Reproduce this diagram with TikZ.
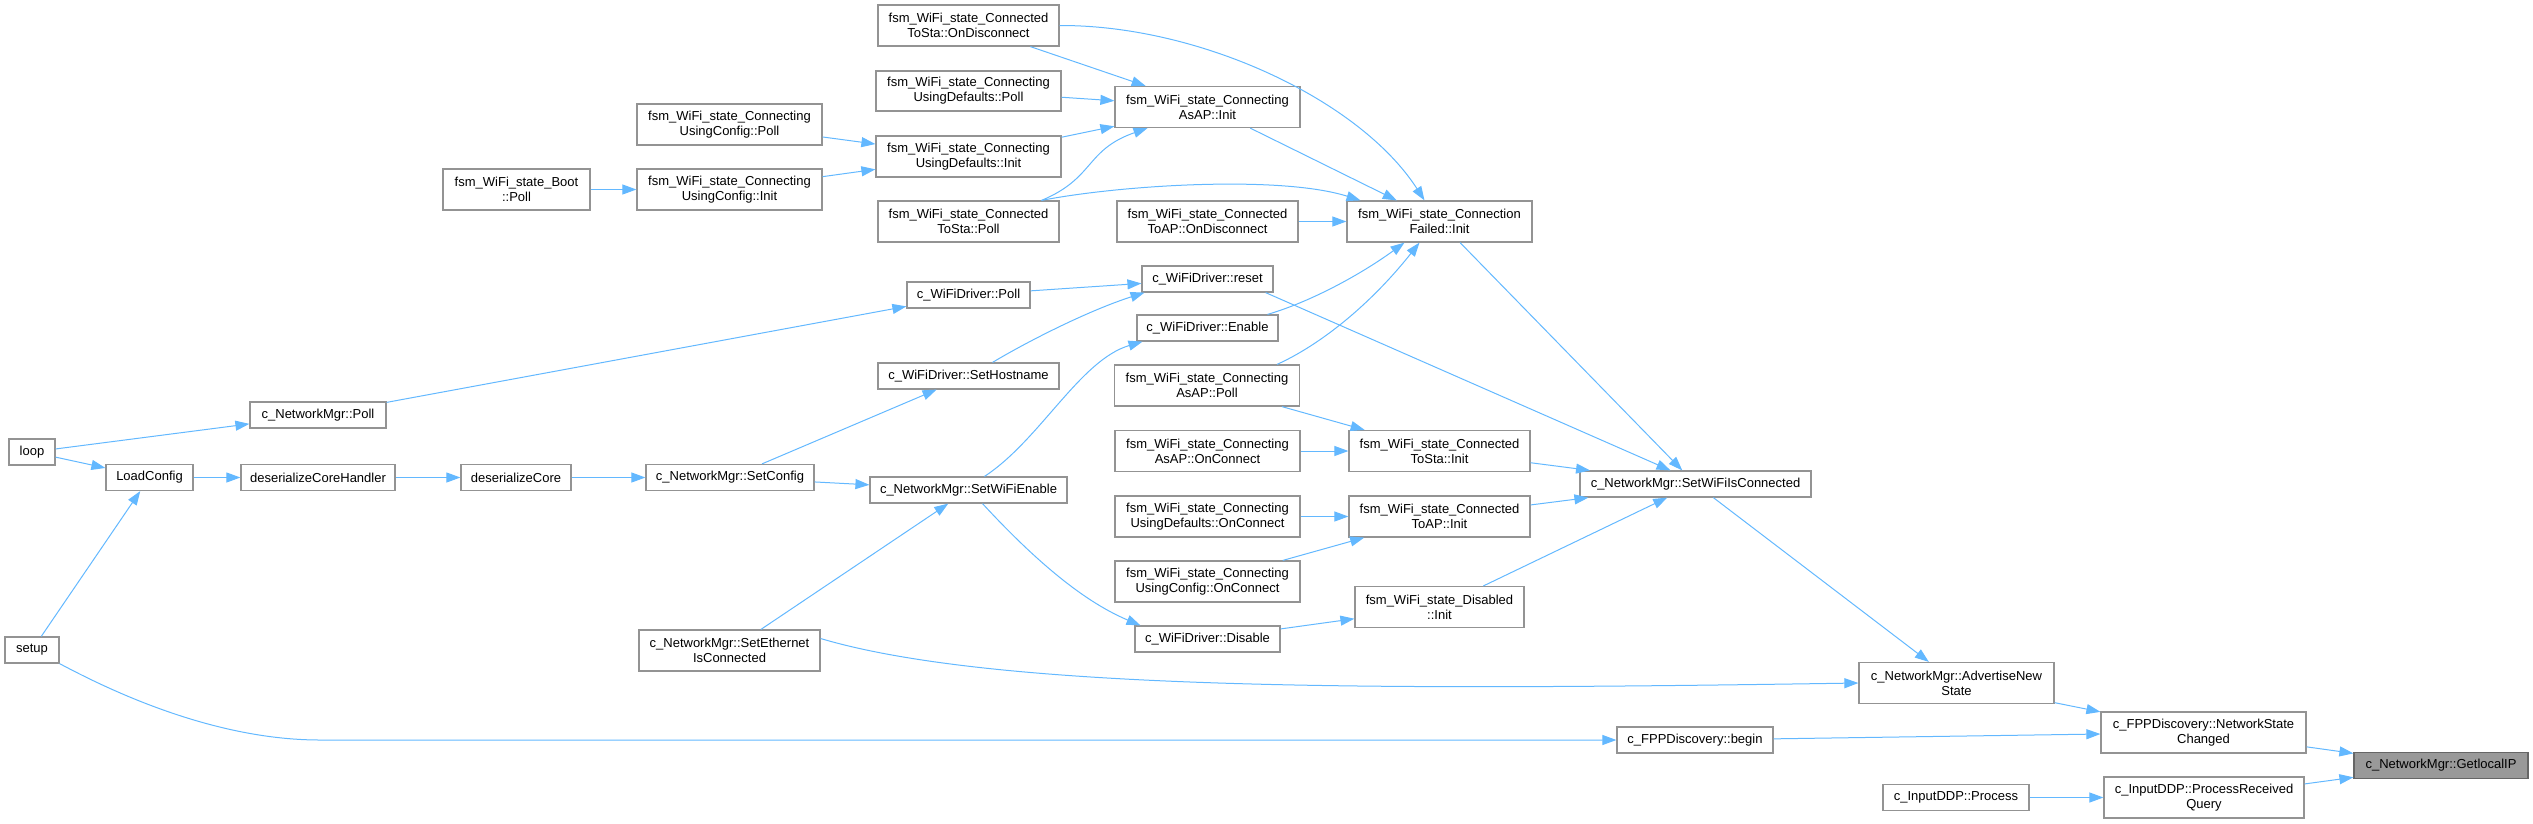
\documentclass[tikz,border=0pt]{standalone}
\usepackage{fontspec}
\setmainfont{Liberation Sans}
\usetikzlibrary{arrows.meta}
\definecolor{edgeblue}{HTML}{63B8FF}
\definecolor{boxgray}{HTML}{939393}
\definecolor{hlfill}{HTML}{999999}
\definecolor{hlborder}{HTML}{666666}
\begin{document}
\begin{tikzpicture}[x=1pt,y=-1pt,
  box/.style={draw=boxgray, line width=1.2pt, fill=white, inner sep=0pt, align=center,
    font=\fontsize{13}{15}\selectfont, text=black},
  hlbox/.style={box, draw=hlborder, fill=hlfill},
  sz/.style 2 args={minimum width=#1pt, minimum height=#2pt},
  edge/.style={draw=edgeblue, line width=1pt, -{Triangle[length=14pt,width=10pt]}}
]
\useasboundingbox (0,0) rectangle (2533,823);

% column: left
\node[box,sz={46}{26}] (loop) at (32,452) {loop};
\node[box,sz={54}{26}] (setup) at (32,650) {setup};
\node[box,sz={87}{26}] (loadcfg) at (149.5,477.5) {LoadConfig};
\node[box,sz={136}{26}] (nmpoll) at (318,415) {c\_NetworkMgr::Poll};
\node[box,sz={154}{26}] (dch) at (318,477.5) {deserializeCoreHandler};
\node[box,sz={147}{41}] (boot) at (516.5,189.5) {fsm\_WiFi\_state\_Boot\\::Poll};
\node[box,sz={110}{26}] (dcore) at (516,477.5) {deserializeCore};
\node[box,sz={185}{41}] (ucpoll) at (729.5,124.5) {fsm\_WiFi\_state\_Connecting\\UsingConfig::Poll};
\node[box,sz={185}{41}] (ucinit) at (729.5,189.5) {fsm\_WiFi\_state\_Connecting\\UsingConfig::Init};
\node[box,sz={168}{26}] (setcfg) at (730,477.5) {c\_NetworkMgr::SetConfig};
\node[box,sz={181}{41}] (seteth) at (729.5,650.5) {c\_NetworkMgr::SetEthernet\\IsConnected};

% column: middle
\node[box,sz={181}{41}] (tsdisc) at (968.5,25.5) {fsm\_WiFi\_state\_Connected\\ToSta::OnDisconnect};
\node[box,sz={185}{40}] (udpoll) at (968.5,91) {fsm\_WiFi\_state\_Connecting\\UsingDefaults::Poll};
\node[box,sz={185}{41}] (udinit) at (968.5,156.5) {fsm\_WiFi\_state\_Connecting\\UsingDefaults::Init};
\node[box,sz={181}{41}] (tspoll) at (968.5,221.5) {fsm\_WiFi\_state\_Connected\\ToSta::Poll};
\node[box,sz={123}{26}] (wdpoll) at (968.5,295) {c\_WiFiDriver::Poll};
\node[box,sz={181}{26}] (sethost) at (968.5,376) {c\_WiFiDriver::SetHostname};
\node[box,sz={197}{26}] (setwifi) at (968.5,490) {c\_NetworkMgr::SetWiFiEnable};

\node[box,sz={185}{41}] (apinit) at (1207.5,107) {fsm\_WiFi\_state\_Connecting\\AsAP::Init};
\node[box,sz={181}{41}] (apdisc) at (1207.5,221.5) {fsm\_WiFi\_state\_Connected\\ToAP::OnDisconnect};
\node[box,sz={131}{26}] (reset) at (1207.5,279) {c\_WiFiDriver::reset};
\node[box,sz={141}{26}] (enable) at (1207.5,328) {c\_WiFiDriver::Enable};
\node[box,sz={185}{41}] (appoll) at (1207,385.5) {fsm\_WiFi\_state\_Connecting\\AsAP::Poll};
\node[box,sz={185}{41}] (aponc) at (1207.5,451) {fsm\_WiFi\_state\_Connecting\\AsAP::OnConnect};
\node[box,sz={185}{41}] (udonc) at (1207.5,516.5) {fsm\_WiFi\_state\_Connecting\\UsingDefaults::OnConnect};
\node[box,sz={185}{41}] (uconc) at (1207.5,581.5) {fsm\_WiFi\_state\_Connecting\\UsingConfig::OnConnect};
\node[box,sz={145}{26}] (disable) at (1207.5,639) {c\_WiFiDriver::Disable};

\node[box,sz={185}{41}] (cfinit) at (1439.5,221.5) {fsm\_WiFi\_state\_Connection\\Failed::Init};
\node[box,sz={181}{41}] (tsinit) at (1439.5,451) {fsm\_WiFi\_state\_Connected\\ToSta::Init};
\node[box,sz={181}{41}] (tapinit) at (1439.5,516.5) {fsm\_WiFi\_state\_Connected\\ToAP::Init};
\node[box,sz={169}{41}] (disinit) at (1439.5,607) {fsm\_WiFi\_state\_Disabled\\::Init};

% column: right
\node[box,sz={231}{26}] (swic) at (1695.5,484) {c\_NetworkMgr::SetWiFiIsConnected};
\node[box,sz={156}{26}] (fppbegin) at (1695,740) {c\_FPPDiscovery::begin};
\node[box,sz={195}{41}] (adv) at (1956.5,683) {c\_NetworkMgr::AdvertiseNew\\State};
\node[box,sz={146}{26}] (ddpproc) at (1956,797.5) {c\_InputDDP::Process};
\node[box,sz={205}{41}] (nsc) at (2203.5,732.5) {c\_FPPDiscovery::NetworkState\\Changed};
\node[box,sz={200}{41}] (prq) at (2204,797.5) {c\_InputDDP::ProcessReceived\\Query};
\node[hlbox,sz={174}{26}] (glip) at (2441,765.5) {c\_NetworkMgr::GetlocalIP};

% edges (straight)
\draw[edge] (loop) -- (nmpoll);
\draw[edge] (loop) -- (loadcfg);
\draw[edge] (setup) -- (loadcfg);
\draw[edge] (loadcfg) -- (dch);
\draw[edge] (dch) -- (dcore);
\draw[edge] (dcore) -- (setcfg);
\draw[edge] (nmpoll) -- (wdpoll);
\draw[edge] (boot) -- (ucinit);
\draw[edge] (ucpoll) -- (udinit);
\draw[edge] (ucinit) -- (udinit);
\draw[edge] (setcfg) -- (sethost);
\draw[edge] (setcfg) -- (setwifi);
\draw[edge] (seteth) -- (setwifi);
\draw[edge] (tsdisc) -- (apinit);
\draw[edge] (udpoll) -- (apinit);
\draw[edge] (udinit) -- (apinit);
\draw[edge] (wdpoll) -- (reset);
\draw[edge] (apinit) -- (cfinit);
\draw[edge] (apdisc) -- (cfinit);
\draw[edge] (appoll) -- (tsinit);
\draw[edge] (aponc) -- (tsinit);
\draw[edge] (udonc) -- (tapinit);
\draw[edge] (uconc) -- (tapinit);
\draw[edge] (disable) -- (disinit);
\draw[edge] ([xshift=-8pt]reset.south east) -- ([xshift=-25pt]swic.north);
\draw[edge] (cfinit) -- (swic);
\draw[edge] (tsinit) -- (swic);
\draw[edge] (tapinit) -- (swic);
\draw[edge] (disinit) -- (swic);
\draw[edge] (swic) -- (adv);
\draw[edge] (adv) -- (nsc);
\draw[edge] (fppbegin) -- (nsc);
\draw[edge] (nsc) -- (glip);
\draw[edge] (ddpproc) -- (prq);
\draw[edge] (prq) -- (glip);

% edges (curved)
\draw[edge] (tsdisc.east) .. controls (1200,25) and (1360,100) .. ([xshift=-15pt]cfinit.north);
\draw[edge] ([xshift=73pt]tspoll.north) .. controls (1095,178) and (1085,150) .. ([xshift=-60pt]apinit.south);
\draw[edge] ([xshift=73pt]tspoll.north) .. controls (1120,185) and (1280,175) .. ([xshift=-79pt]cfinit.north);
\draw[edge] ([xshift=24pt]sethost.north) .. controls (1030,340) and (1090,310) .. ([xshift=-63pt]reset.south);
\draw[edge] ([xshift=60pt]enable.north) .. controls (1310,302) and (1360,275) .. ([xshift=-35pt]cfinit.south);
\draw[edge] ([xshift=70pt]appoll.north) .. controls (1320,345) and (1370,305) .. ([xshift=-20pt]cfinit.south);
\draw[edge] ([xshift=16pt]setwifi.north) .. controls (1040,440) and (1080,360) .. ([xshift=-65pt]enable.south);
\draw[edge] ([xshift=14pt]setwifi.south) .. controls (1030,555) and (1080,600) .. ([xshift=-67pt]disable.north);
\draw[edge] ([yshift=12pt]seteth.east) .. controls (1000,692) and (1400,690) .. (adv.west);
\draw[edge] (setup.south east) .. controls (150,712) and (240,740) .. (320,740) -- (fppbegin.west);
\end{tikzpicture}
\end{document}
